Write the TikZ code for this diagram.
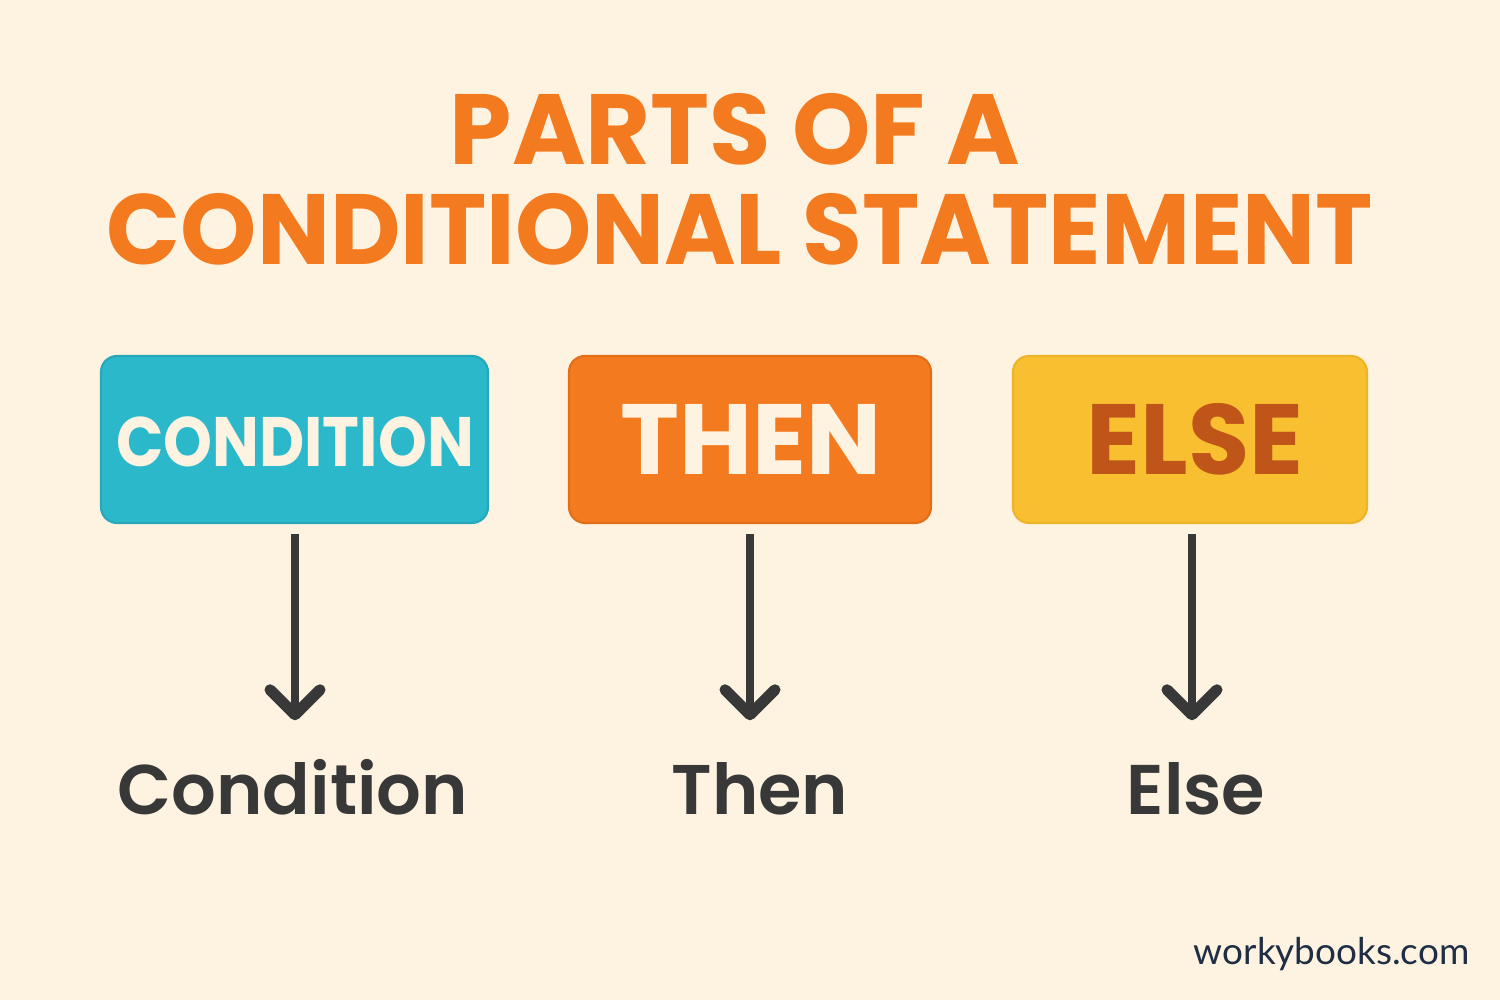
\documentclass[tikz,border=0pt]{standalone}
\usepackage{fontspec}
\setmainfont{Poppins}
\newfontfamily\psemi{Poppins SemiBold}
\newfontfamily\lato{Lato}
\usetikzlibrary{arrows.meta}
\definecolor{bg}{HTML}{FDF3E0}
\definecolor{teal}{HTML}{2BB8CB}
\definecolor{tealdk}{HTML}{26A7BA}
\definecolor{orng}{HTML}{F47A20}
\definecolor{orngdk}{HTML}{E26E18}
\definecolor{yell}{HTML}{F8C030}
\definecolor{yelldk}{HTML}{EDB42A}
\definecolor{elsetxt}{HTML}{C0551A}
\definecolor{ttl}{HTML}{F47A1F}
\definecolor{dark}{HTML}{383838}
\definecolor{wb}{HTML}{1F2D45}
\begin{document}
\begin{tikzpicture}
\tikzset{
  card/.style={rounded corners=0.16cm, minimum height=1.67cm, inner sep=0pt, line width=0.6pt},
  ttlfont/.style={font=\bfseries\fontsize{28.4}{30}\selectfont, text=ttl, inner sep=0pt, anchor=base},
  lbl/.style={font=\psemi\fontsize{20}{22}\selectfont, text=dark, inner sep=0pt, anchor=base, text height=0.6cm, text depth=0.15cm},
  arr/.style={draw=dark, line width=0.08cm, -{Straight Barb[length=0.25cm, width=0.5cm, line width=0.11cm, line cap=round, line join=round]}, shorten <=0.1cm, shorten >=0.34cm}
}
\fill[bg] (0,0) rectangle (15,10);
\useasboundingbox (0,0) rectangle (15,10);
% title
\node[ttlfont] (t1) at (7.35,8.35) {PARTS OF A};
\node[ttlfont] (t2) at (7.40,7.35) {\scalebox{0.972}[1]{CONDITIONAL STATEMENT}};
% boxes
\node[card, fill=teal, draw=tealdk, minimum width=3.87cm] (bc) at (2.945,5.605) {};
\node[card, fill=orng, draw=orngdk, minimum width=3.62cm] (bt) at (7.50,5.605) {};
\node[card, fill=yell, draw=yelldk, minimum width=3.54cm] (be) at (11.90,5.605) {};
\node[font=\bfseries\fontsize{19.9}{22}\selectfont, text=bg, inner sep=0pt, anchor=base] (tc) at (2.95,5.33) {\scalebox{0.89}[1]{CONDITION}};
\node[font=\bfseries\fontsize{28.4}{30}\selectfont, text=bg, inner sep=0pt, anchor=base] (tt) at (7.51,5.25) {THEN};
\node[font=\bfseries\fontsize{28.4}{30}\selectfont, text=elsetxt, inner sep=0pt, anchor=base] (te) at (11.95,5.25) {ELSE};
% labels
\node[lbl] (lc) at (2.93,1.85) {Condition};
\node[lbl] (lt) at (7.60,1.85) {Then};
\node[lbl] (le) at (11.96,1.85) {Else};
% arrows
\draw[arr] ([xshift=0.005cm]bc.south) -- ([xshift=0.005cm]bc.south |- lc.north);
\draw[arr] (bt.south) -- (bt.south |- lt.north);
\draw[arr] ([xshift=0.02cm]be.south) -- ([xshift=0.02cm]be.south |- le.north);
% footer
\node[font=\lato\fontsize{10.5}{12}\selectfont, text=wb, inner sep=0pt, anchor=base east] (wb) at (14.70,0.35) {workybooks.com};
\end{tikzpicture}
\end{document}
